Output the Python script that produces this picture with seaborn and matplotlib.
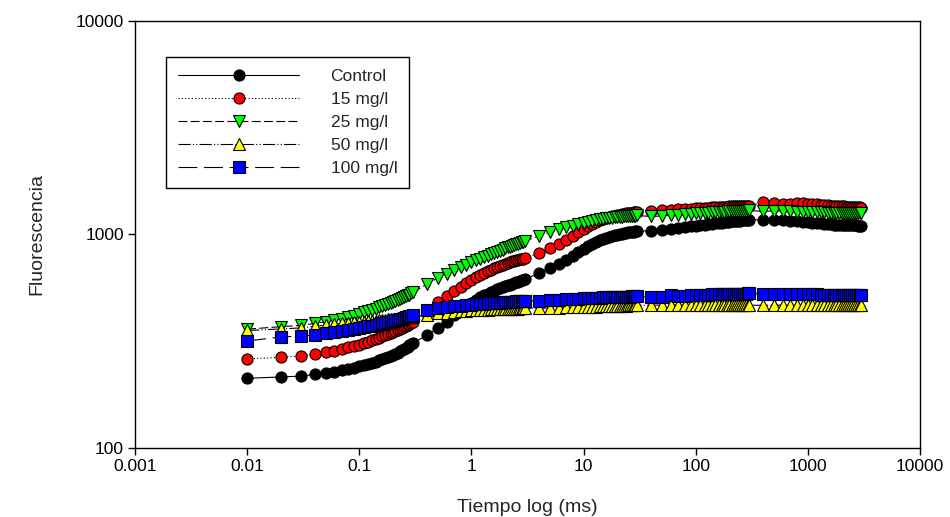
"""Fluorescencia vs tiempo (log-log), curvas OJIP por tratamiento"""

# Third party imports
import matplotlib
matplotlib.use('Agg')
import matplotlib.pyplot as plt
import seaborn as sns

# tiempos (ms)
tiempo = [
    0.01, 0.02, 0.03, 0.04, 0.05, 0.06, 0.07, 0.08, 0.09, 0.10,
    0.11, 0.12, 0.13, 0.14, 0.15, 0.16, 0.17, 0.18, 0.19, 0.20,
    0.21, 0.22, 0.23, 0.24, 0.25, 0.26, 0.27, 0.28, 0.29, 0.30,
    0.4, 0.5, 0.6, 0.7, 0.8, 0.9, 1.0, 1.1, 1.2, 1.3, 1.4, 1.5, 1.6, 1.7,
    1.8, 1.9, 2.0, 2.1, 2.2, 2.3, 2.4, 2.5, 2.6, 2.7, 2.8, 2.9, 3.0,
    4, 5, 6, 7, 8, 9, 10, 11, 12, 13, 14, 15, 16, 17, 18, 19, 20,
    21, 22, 23, 24, 25, 26, 27, 28, 29, 30,
    40, 50, 60, 70, 80, 90, 100, 110, 120, 130, 140, 150, 160, 170,
    180, 190, 200, 210, 220, 230, 240, 250, 260, 270, 280, 290, 300,
    400, 500, 600, 700, 800, 900, 1000, 1100, 1200, 1300, 1400, 1500,
    1600, 1700, 1800, 1900, 2000, 2100, 2200, 2300, 2400, 2500, 2600,
    2700, 2800, 2900, 3000,
]

control = [
    212, 215, 217, 221, 225, 228, 231, 235, 238, 242,
    245, 248, 251, 254, 257, 260, 263, 266, 270, 273,
    277, 280, 284, 287, 291, 295, 298, 302, 306, 310,
    337, 365, 390, 418, 440, 462, 480, 495, 508, 519, 529, 538, 546, 553,
    560, 566, 572, 577, 582, 587, 592, 597, 601, 605, 609, 613, 616,
    659, 694, 728, 760, 792, 825, 857, 883, 905, 925, 940, 953, 965, 975,
    984, 992, 999, 1005, 1010, 1015, 1019, 1023, 1026, 1029, 1032, 1034, 1036,
    1040, 1052, 1062, 1072, 1082, 1092, 1100, 1106, 1112, 1118, 1123, 1128,
    1132, 1136, 1140, 1144, 1147, 1150, 1153, 1156, 1159, 1161, 1163, 1165,
    1167, 1169, 1171,
    1172, 1170, 1166, 1162, 1155, 1148, 1140, 1135, 1130, 1126, 1122, 1118,
    1115, 1112, 1110, 1108, 1106, 1105, 1104, 1103, 1103, 1102, 1102, 1102,
    1101, 1101, 1100,
]

mg15 = [
    261, 266, 270, 275, 281, 286, 291, 296, 300, 305,
    310, 315, 319, 324, 328, 333, 337, 341, 346, 350,
    354, 358, 362, 366, 370, 374, 377, 381, 385, 389,
    440, 483, 515, 543, 568, 592, 612, 630, 646, 660, 673, 685, 696, 706,
    715, 723, 731, 738, 744, 749, 753, 757, 760, 764, 767, 770, 772,
    818, 862, 905, 945, 985, 1025, 1062, 1095, 1122, 1145, 1164, 1180, 1194,
    1206, 1216, 1225, 1233, 1240, 1246, 1251, 1255, 1259, 1262, 1265, 1268,
    1270, 1272,
    1290, 1298, 1304, 1310, 1315, 1320, 1324, 1328, 1332, 1335, 1338, 1341,
    1344, 1346, 1348, 1350, 1352, 1354, 1356, 1357, 1359, 1360, 1361, 1362,
    1364, 1365, 1366,
    1415, 1400, 1392, 1395, 1400, 1405, 1395, 1388, 1382, 1377, 1373, 1369,
    1366, 1363, 1360, 1357, 1355, 1352, 1350, 1348, 1346, 1344, 1342, 1341,
    1340, 1339, 1337,
]

mg25 = [
    360, 370, 375, 383, 390, 396, 403, 410, 417, 425,
    432, 438, 444, 450, 456, 461, 467, 472, 477, 483,
    488, 493, 498, 503, 508, 513, 518, 523, 530, 537,
    584, 625, 655, 680, 702, 722, 740, 756, 771, 784, 796, 808, 819, 829,
    838, 847, 862, 870, 878, 885, 892, 899, 906, 912, 918, 924, 930,
    985, 1025, 1055, 1080, 1100, 1118, 1135, 1148, 1160, 1170, 1178, 1185,
    1191, 1196, 1200, 1204, 1207, 1210, 1213, 1215, 1217, 1219, 1221, 1223,
    1224, 1226, 1227,
    1214, 1220, 1228, 1235, 1242, 1248, 1254, 1259, 1263, 1267, 1270, 1273,
    1276, 1278, 1280, 1282, 1284, 1285, 1287, 1288, 1289, 1290, 1291, 1292,
    1293, 1294, 1295,
    1283, 1290, 1286, 1282, 1280, 1278, 1275, 1273, 1271, 1270, 1268, 1267,
    1266, 1265, 1264, 1263, 1262, 1261, 1260, 1260, 1259, 1259, 1258, 1258,
    1257, 1257, 1256,
]

mg50 = [
    355, 361, 365, 371, 377, 380, 383, 385, 387, 389,
    391, 392, 394, 395, 397, 398, 399, 400, 402, 403,
    404, 405, 406, 407, 408, 409, 410, 411, 412, 413,
    420, 427, 431, 434, 437, 439, 441, 442, 443, 444, 445, 446, 446, 447,
    447, 448, 448, 449, 449, 449, 450, 450, 450, 451, 451, 451, 451,
    452, 453, 454, 455, 455, 456, 456, 457, 458, 459, 460, 460, 461, 461,
    462, 462, 463, 463, 464, 464, 464, 465, 465, 465, 466, 466, 466,
    466, 467, 467, 467, 468, 468, 469, 469, 469, 469, 469, 469, 469, 469,
    469, 468, 468, 468, 468, 468, 467, 467, 467, 467, 467, 466, 466,
    466, 466, 467, 466, 466, 466, 466, 466, 466, 466, 466, 466, 466, 466,
    466, 466, 466, 466, 466, 466, 466, 466, 466, 466, 466, 466, 466,
]

mg100 = [
    317, 331, 334, 338, 344, 348, 352, 356, 360, 364,
    368, 371, 374, 377, 380, 383, 386, 389, 391, 394,
    397, 399, 402, 404, 407, 409, 411, 414, 416, 418,
    442, 451, 457, 461, 464, 467, 469, 471, 473, 474, 476, 477, 478, 479,
    480, 481, 482, 483, 484, 484, 485, 486, 486, 487, 487, 488, 488,
    490, 492, 494, 496, 498, 500, 502, 503, 504, 505, 506, 507, 508, 508,
    509, 509, 510, 510, 511, 511, 512, 512, 512, 513, 513, 513, 514,
    508, 512, 518, 514, 516, 518, 520, 521, 522, 523, 524, 525, 525, 526,
    526, 527, 527, 527, 528, 528, 528, 529, 529, 529, 529, 530, 530,
    526, 526, 528, 527, 526, 525, 525, 524, 524, 523, 523, 522, 522, 522,
    521, 521, 521, 520, 520, 520, 520, 519, 519, 519, 519, 519, 519,
]

series = [
    ('Control', control, 'o', 'black', '-'),
    ('15 mg/l', mg15, 'o', 'red', (0, (1, 2))),
    ('25 mg/l', mg25, 'v', '#00ff00', (0, (8, 3))),
    ('50 mg/l', mg50, '^', 'yellow', (0, (11, 2, 1, 2, 1, 2))),
    ('100 mg/l', mg100, 's', 'blue', (0, (17, 6))),
]

sns.set_style('ticks')
plt.rcParams['font.family'] = ['Liberation Sans', 'DejaVu Sans']

fig = plt.figure(figsize=(9.5, 5.17), dpi=100)
ax = fig.add_axes([0.1421, 0.1335, 0.8263, 0.826])

for name, vals, mk, fc, ls in series:
    sns.lineplot(x=tiempo, y=vals, ax=ax, label=name, estimator=None,
                 errorbar=None, sort=False, color='black', linewidth=0.8,
                 linestyle=ls, marker=mk, markersize=8,
                 markerfacecolor=fc, markeredgecolor='black',
                 markeredgewidth=0.8)

ax.set_xscale('log')
ax.set_yscale('log')
ax.set_xlim(0.001, 10000)
ax.set_ylim(100, 10000)

xticks = [0.001, 0.01, 0.1, 1, 10, 100, 1000, 10000]
xlabels = ['0.001', '0.01', '0.1', '1', '10', '100', '1000', '10000']
yticks = [100, 1000, 10000]
ylabels = ['100', '1000', '10000']
ax.set_xticks(xticks)
ax.set_xticklabels(xlabels)
ax.set_yticks(yticks)
ax.set_yticklabels(ylabels)
ax.minorticks_off()
ax.tick_params(axis='both', direction='out', length=5, width=1,
               labelsize=12.5, pad=3, colors='black')
for sp in ax.spines.values():
    sp.set_color('black')
    sp.set_linewidth(1)

ax.set_xlabel('Tiempo log (ms)', fontsize=14, labelpad=18)
ax.set_ylabel('Fluorescencia', fontsize=14, labelpad=22)

leg = ax.legend(loc='upper left', bbox_to_anchor=(0.039, 0.916),
                borderaxespad=0, fontsize=12.5, handlelength=7,
                handletextpad=1.8, labelspacing=0.45, borderpad=0.7,
                fancybox=False, framealpha=1, edgecolor='black')
leg.get_frame().set_linewidth(1)

plt.savefig('out.png', dpi=100)
